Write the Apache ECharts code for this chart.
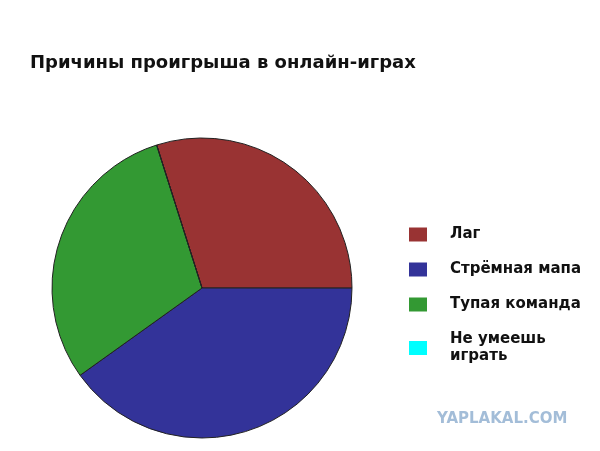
<!DOCTYPE html>
<html><head><meta charset="utf-8">
<script src="https://cdn.jsdelivr.net/npm/echarts@6/dist/echarts.min.js"></script>
<style>html,body{margin:0;padding:0;background:#fff}#c{width:600px;height:451px}</style>
</head><body><div id="c"></div>
<script>
var titleText = "Причины проигрыша в онлайн-играх";
var categories = ["Лаг", "Стрёмная мапа", "Тупая команда", "Не умеешь играть"];
var values = [29.9, 40.1, 30, 0];
var colors = ["#993333", "#333399", "#339933", "#00ffff"];
var watermark = "YAPLAKAL.COM";

var chart = echarts.init(document.getElementById('c'));
chart.setOption({
  backgroundColor: '#fff',
  animation: false,
  title: {
    text: titleText, left: 30, top: 54, padding: 0,
    textStyle: {fontFamily: 'DejaVu Sans', fontWeight: 'bold', fontSize: 18, color: '#111'}
  },
  legend: {
    orient: 'vertical', left: 404, top: 221,
    itemWidth: 18, itemHeight: 14, itemGap: 18,
    icon: 'rect',
    itemStyle: {borderWidth: 0},
    data: categories,
    formatter: function(n){ return n === "Не умеешь играть" ? "Не умеешь\nиграть" : n; },
    textStyle: {fontFamily: 'DejaVu Sans', fontWeight: 'bold', fontSize: 15, color: '#111', padding: [0,0,0,18], lineHeight: 17}
  },
  graphic: [{
    type: 'text', left: 437, top: 412,
    style: {text: watermark, fill: '#a3bdd8', font: 'bold 15px "DejaVu Sans"'}
  }],
  series: [{
    type: 'pie',
    center: [202, 288],
    radius: 150,
    startAngle: 107.6,
    clockwise: true,
    label: {show: false},
    labelLine: {show: false},
    itemStyle: {borderColor: '#222', borderWidth: 1},
    data: categories.map(function(c, i){ return {name: c, value: values[i], itemStyle: {color: colors[i]}}; })
  }]
});
</script></body></html>
